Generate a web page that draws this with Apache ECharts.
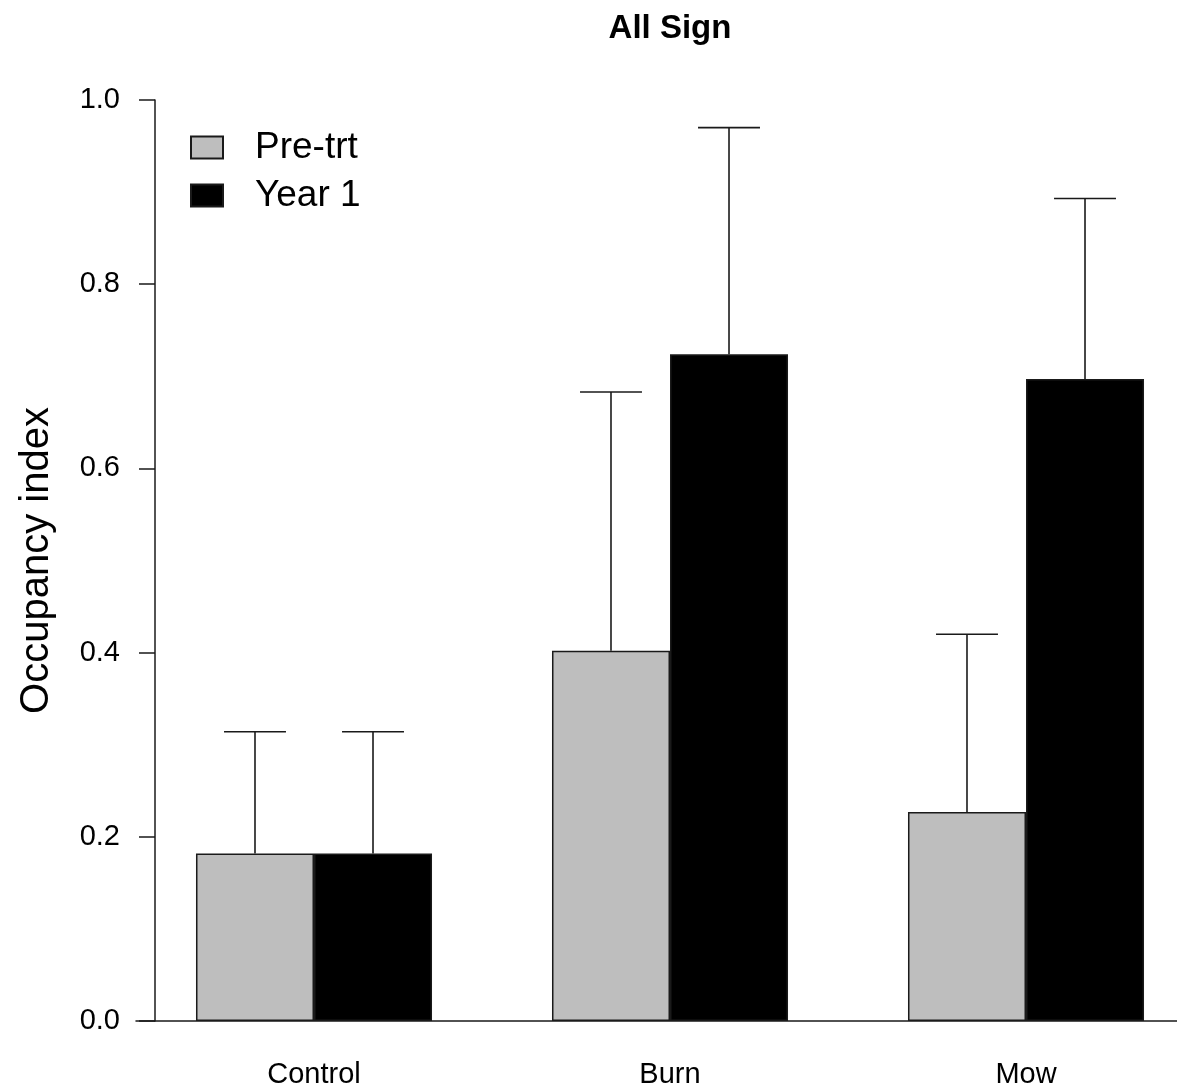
<!DOCTYPE html>
<html>
<head>
<meta charset="utf-8">
<script src="https://cdn.jsdelivr.net/npm/echarts@6/dist/echarts.min.js"></script>
<style>
html, body { margin: 0; padding: 0; background: #fff; }
#chart { width: 1177px; height: 1090px; }
</style>
</head>
<body>
<div id="chart"></div>
<script>
// ---- data ----
const categories = ['Control', 'Burn', 'Mow'];
const seriesNames = ['Pre-trt', 'Year 1'];
const preTrt = [0.182, 0.402, 0.227];
const year1 = [0.182, 0.724, 0.697];
const preTrtUpper = [0.314, 0.683, 0.420];
const year1Upper = [0.314, 0.970, 0.893];
const titleText = 'All Sign';
const yAxisName = 'Occupancy index';

// ---- style ----
const FONT = '"Liberation Sans", Arial, sans-serif';
const BAR_FRAC = 0.3315;   // bar width as fraction of category band
const CAP_FRAC = 0.174;    // error cap width as fraction of category band
const INK = '#1a1a1a';

function errorSeries(name, values, uppers, side) {
  return {
    type: 'custom',
    name: name + ' error',
    z: 5,
    silent: true,
    data: values.map((v, i) => [i, v, uppers[i]]),
    renderItem: function (params, api) {
      const cat = api.value(0);
      const p0 = api.coord([cat, api.value(1)]);
      const p1 = api.coord([cat, api.value(2)]);
      const band = api.size([1, 0])[0];
      const x = p0[0] + side * band * BAR_FRAC / 2;
      const capHalf = band * CAP_FRAC / 2;
      const st = { stroke: INK, lineWidth: 1.6 };
      return {
        type: 'group',
        children: [
          { type: 'line', shape: { x1: x, y1: p0[1], x2: x, y2: p1[1] }, style: st },
          { type: 'line', shape: { x1: x - capHalf, y1: p1[1], x2: x + capHalf, y2: p1[1] }, style: st }
        ]
      };
    }
  };
}

const chart = echarts.init(document.getElementById('chart'), null, { renderer: 'canvas' });
chart.setOption({
  backgroundColor: '#ffffff',
  animation: false,
  textStyle: { fontFamily: FONT, color: '#000' },
  graphic: [{
    type: 'text',
    x: 670,
    y: 29,
    style: {
      text: titleText,
      fontFamily: FONT,
      fontSize: 33,
      fontWeight: 'bold',
      fill: '#000',
      textAlign: 'center',
      textVerticalAlign: 'middle'
    }
  }],
  legend: {
    orient: 'vertical',
    left: 185,
    top: 124,
    itemWidth: 32,
    itemHeight: 22,
    itemGap: 11,
    icon: 'rect',
    data: seriesNames,
    textStyle: { fontFamily: FONT, fontSize: 37, color: '#000', padding: [0, 0, 0, 27] }
  },
  grid: { left: 136, top: 100, width: 1068, height: 921, outerBoundsMode: 'none' },
  xAxis: {
    type: 'category',
    data: categories,
    axisLine: { show: true, lineStyle: { color: INK, width: 1.5 } },
    axisTick: { show: false },
    axisLabel: { fontFamily: FONT, fontSize: 29, color: '#000', margin: 39 },
    splitLine: { show: false }
  },
  yAxis: {
    type: 'value',
    min: 0,
    max: 1,
    interval: 0.2,
    offset: -19,
    name: yAxisName,
    nameLocation: 'middle',
    nameGap: 98,
    nameTextStyle: { fontFamily: FONT, fontSize: 40, color: '#000' },
    axisLine: { show: true, lineStyle: { color: INK, width: 1.5 } },
    axisTick: { show: true, length: 16, lineStyle: { color: INK, width: 1.5 } },
    axisLabel: {
      fontFamily: FONT, fontSize: 29, color: '#000', margin: 35,
      formatter: v => v.toFixed(1)
    },
    splitLine: { show: false }
  },
  series: [
    {
      name: seriesNames[0],
      type: 'bar',
      data: preTrt,
      barWidth: (BAR_FRAC * 100) + '%',
      barGap: '0%',
      itemStyle: { color: '#bebebe', borderColor: INK, borderWidth: 1.5 }
    },
    {
      name: seriesNames[1],
      type: 'bar',
      data: year1,
      barWidth: (BAR_FRAC * 100) + '%',
      barGap: '0%',
      itemStyle: { color: '#000000', borderColor: INK, borderWidth: 1.5 }
    },
    errorSeries(seriesNames[0], preTrt, preTrtUpper, -1),
    errorSeries(seriesNames[1], year1, year1Upper, 1)
  ]
});
</script>
</body>
</html>
